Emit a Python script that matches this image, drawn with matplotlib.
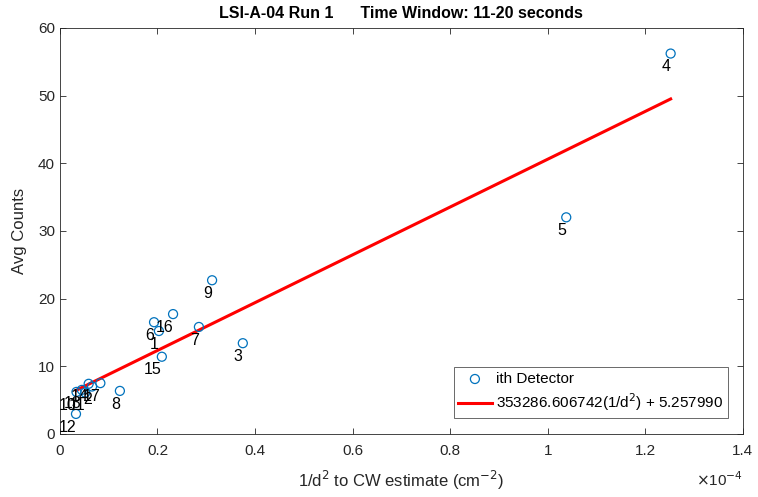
import matplotlib.pyplot as plt
import numpy as np
from matplotlib.ticker import FuncFormatter

plt.rcParams["font.family"] = ["Liberation Sans", "DejaVu Sans"]

# detector data (1/d^2 in cm^-2, average counts)
detectors = [1, 2, 3, 4, 5, 6, 7, 8, 9, 10, 11, 12, 13, 14, 15, 16, 17]
inv_d2 = [0.203e-4, 0.066e-4, 0.375e-4, 1.252e-4, 1.038e-4, 0.193e-4, 0.285e-4,
          0.123e-4, 0.312e-4, 0.034e-4, 0.052e-4, 0.033e-4, 0.045e-4, 0.059e-4,
          0.209e-4, 0.232e-4, 0.083e-4]
counts = [15.2, 7.0, 13.4, 56.2, 32.0, 16.5, 15.8,
          6.35, 22.7, 6.2, 6.1, 2.95, 6.5, 7.4,
          11.4, 17.7, 7.5]

slope = 353286.606742
intercept = 5.257990

fig = plt.figure(figsize=(7.58, 4.97), dpi=100)
ax = fig.add_axes([0.079, 0.127, 0.901, 0.817])

ax.scatter(inv_d2, counts, s=42, facecolors="none", edgecolors="#0072BD",
           linewidths=0.9, label="ith Detector", zorder=3)

x_fit = np.array([min(inv_d2), max(inv_d2)])
ax.plot(x_fit, slope * x_fit + intercept, color="red", linewidth=2.2,
        label="353286.606742(1/d$^2$) + 5.257990", zorder=2)

# detector number labels, right-aligned just below each point
for d, x, y in zip(detectors, inv_d2, counts):
    ax.annotate(str(d), (x, y), xytext=(0, -9.5), textcoords="offset points",
                ha="right", va="center", fontsize=11.5, color="black", zorder=4)

ax.set_xlim(0, 1.4e-4)
ax.set_ylim(0, 60)
ax.set_xticks(np.arange(0, 1.41e-4, 0.2e-4))
ax.set_yticks(np.arange(0, 61, 10))
ax.xaxis.set_major_formatter(FuncFormatter(lambda v, p: f"{v * 1e4:g}"))
ax.tick_params(direction="in", top=True, right=True, length=4, width=0.6,
               labelsize=11, colors="#262626")
ax.tick_params(axis="x", pad=7)
for s in ax.spines.values():
    s.set_color("#262626")
    s.set_linewidth(0.6)

ax.text(1.0, -0.09, r"$\times$10$^{-4}$", transform=ax.transAxes, ha="right",
        va="top", fontsize=11, color="#262626")

ax.set_xlabel("1/d$^2$ to CW estimate (cm$^{-2}$)", fontsize=12, color="#262626",
              labelpad=8)
ax.set_ylabel("Avg Counts", fontsize=12, color="#262626", labelpad=8)
ax.set_title("LSI-A-04 Run 1      Time Window: 11-20 seconds", fontsize=11.5,
             fontweight="bold", color="black", pad=7)

leg = ax.legend(loc="lower right", bbox_to_anchor=(0.978, 0.04), fontsize=11,
                frameon=True, fancybox=False, edgecolor="#262626",
                handlelength=2.2, handletextpad=0.3, borderpad=0.3,
                borderaxespad=0, labelspacing=0.35)
leg.get_frame().set_linewidth(0.6)

fig.savefig("out.png", dpi=100)
